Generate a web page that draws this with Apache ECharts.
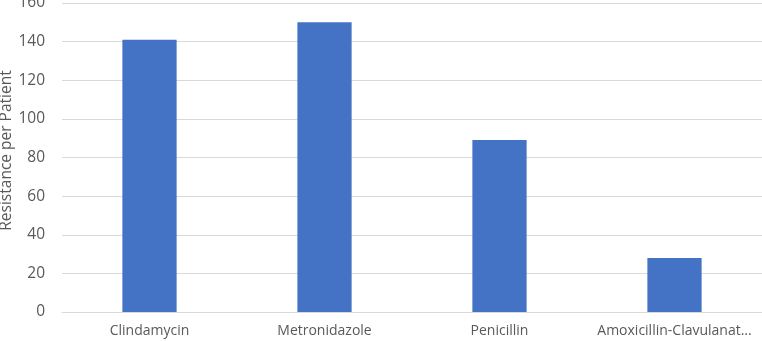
<!DOCTYPE html>
<html>
<head>
<meta charset="utf-8">
<script src="https://cdn.jsdelivr.net/npm/echarts@6/dist/echarts.min.js"></script>
<style>
html,body{margin:0;padding:0;background:#fff;}
#chart{width:762px;height:341px;}
</style>
</head>
<body>
<div id="chart"></div>
<script>
const categories = ["Clindamycin", "Metronidazole", "Penicillin", "Amoxicillin-Clavulanat..."];
const resistanceValues = [141, 150, 89, 28];
const yAxisName = "Resistance per Patient";
const yMin = 0, yMax = 160, yStep = 20;

const chart = echarts.init(document.getElementById('chart'), null, {renderer: 'canvas'});
const font = '"Open Sans", "Noto Sans", sans-serif';
chart.setOption({
  animation: false,
  backgroundColor: '#ffffff',
  grid: {left: 62, right: 0, top: 3, bottom: 29, containLabel: false, outerBoundsMode: 'none'},
  xAxis: {
    type: 'category',
    data: categories,
    axisLine: {show: true, lineStyle: {color: '#d9d9d9', width: 1}},
    axisTick: {show: false},
    axisLabel: {color: '#595959', fontSize: 14, fontFamily: font, margin: 12, interval: 0}
  },
  yAxis: {
    type: 'value',
    min: yMin, max: yMax, interval: yStep,
    name: yAxisName,
    nameLocation: 'middle',
    nameGap: 47,
    nameMoveOverlap: false,
    nameTextStyle: {color: '#595959', fontSize: 15.5, fontFamily: font, padding: [0, 0, 0, 14]},
    axisLine: {show: false},
    axisTick: {show: false},
    splitLine: {lineStyle: {color: '#d9d9d9', width: 1}},
    axisLabel: {color: '#595959', fontSize: 15.5, fontFamily: font, margin: 17}
  },
  series: [{
    type: 'bar',
    data: resistanceValues,
    barWidth: '31%',
    itemStyle: {color: '#4472c4'}
  }]
});
</script>
</body>
</html>
